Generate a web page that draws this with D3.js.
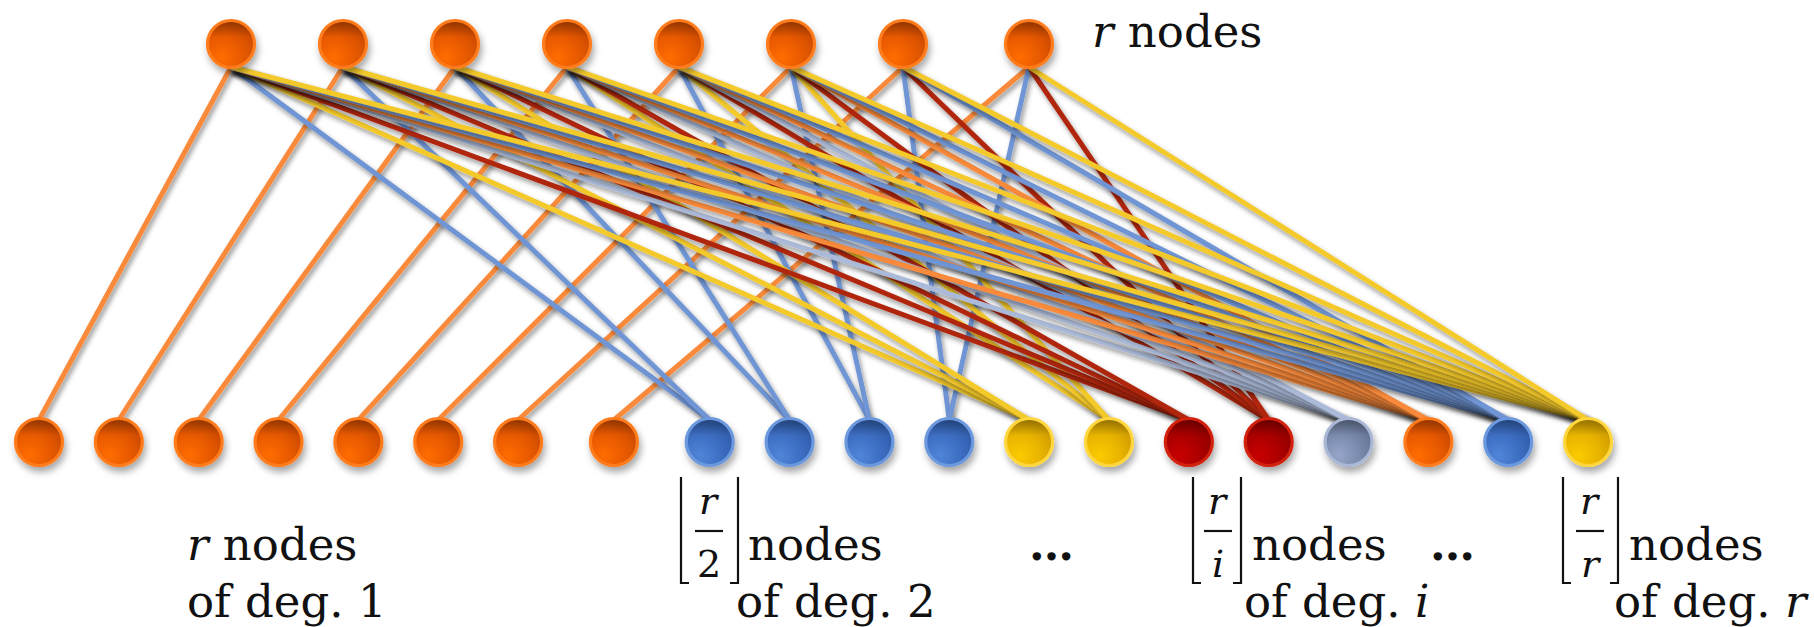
<!DOCTYPE html>
<html>
<head>
<meta charset="utf-8">
<script src="https://cdn.jsdelivr.net/npm/d3@7"></script>
<style>
  html, body { margin: 0; padding: 0; background: #fff; }
  svg { display: block; }
  text { font-family: "DejaVu Serif", serif; fill: #111; }
</style>
</head>
<body>
<div id="chart"></div>
<script>
// graph data: r top nodes, bottom groups by degree
const r = 8;
const groupDegrees = [1, 2, 3, 4, 5, 6, 7, 8];
const groupSizes = [8, 4, 2, 2, 1, 1, 1, 1];
const groupColors = ["orange", "blue", "yellow", "red", "grey", "orange", "blue", "yellow"];

const topLabel = ["r", " nodes"];
const bottomLabels = [
    { frac: null, line1: ["r", " nodes"], line2: ["of deg. 1", ""] },
    { frac: "2", line1: ["", "nodes"], line2: ["of deg. 2", ""] },
    { frac: "i", line1: ["", "nodes"], line2: ["of deg. ", "i"] },
    { frac: "r", line1: ["", "nodes"], line2: ["of deg. ", "r"] }
];
const dots = ["…", "…"];

// styles
const palette = {
    orange: { line: "#f98a3a", stops: ["#ff6c04", "#e65800", "#bd4300"], stroke: "#ff7c1e" },
    blue:   { line: "#6f95d4", stops: ["#5085d8", "#3b6cc0", "#2b559e"], stroke: "#6c98de" },
    yellow: { line: "#f4c92c", stops: ["#fccb04", "#e6b200", "#c29000"], stroke: "#ffd63e" },
    red:    { line: "#b0260f", stops: ["#c80606", "#a80000", "#840000"], stroke: "#d2200f" },
    grey:   { line: "#abbad8", stops: ["#97a6c8", "#7888aa", "#5b6988"], stroke: "#aab7d5" }
};

const width = 1814;
const height = 627;
const topY = 44, botY = 442, nodeR = 23.5;

// build nodes and links
const topNodes = d3.range(r).map(j => ({ id: "t" + j, idx: j }));
let bottomNodes = [];
let links = [];
groupDegrees.forEach((deg, g) => {
    for (let k = 0; k < groupSizes[g]; k++) {
        const b = { id: "b" + bottomNodes.length, idx: bottomNodes.length, deg: deg, color: groupColors[g] };
        bottomNodes.push(b);
        for (let t = k * deg; t < k * deg + deg; t++) {
            links.push({ source: topNodes[t], target: b, color: groupColors[g], deg: deg });
        }
    }
});

// layout scales (slot index -> x), with the small extra gaps seen in the figure
const xTop = d3.scaleLinear().domain([0, 7]).range([231, 231 + 112 * 7]);
const topSlot = j => j < 7 ? j : 7.125;
const xBot = d3.scaleLinear().domain([0, 19]).range([39, 39 + 79.85 * 19]);
const botSlot = i => i < 7 ? i : (i === 7 ? i + 0.2 : i + 0.4);

topNodes.forEach(d => { d.x = xTop(topSlot(d.idx)); d.y = topY; });
bottomNodes.forEach(d => { d.x = xBot(botSlot(d.idx)); d.y = botY; });

const svg = d3.select("#chart").append("svg")
    .attr("width", width)
    .attr("height", height);

const defs = svg.append("defs");

const lineShadow = defs.append("filter").attr("id", "lineShadow")
    .attr("x", "-20%").attr("y", "-20%").attr("width", "140%").attr("height", "140%");
lineShadow.append("feDropShadow")
    .attr("dx", 2).attr("dy", 3.5).attr("stdDeviation", 2.5)
    .attr("flood-color", "#000").attr("flood-opacity", 0.42);

const nodeShadow = defs.append("filter").attr("id", "nodeShadow")
    .attr("x", "-50%").attr("y", "-50%").attr("width", "200%").attr("height", "200%");
nodeShadow.append("feDropShadow")
    .attr("dx", 2).attr("dy", 5).attr("stdDeviation", 3.5)
    .attr("flood-color", "#000").attr("flood-opacity", 0.35);

Object.keys(palette).forEach(name => {
    const grad = defs.append("radialGradient").attr("id", "grad-" + name)
        .attr("cx", "0.3").attr("cy", "0.78").attr("fx", "0.3").attr("fy", "0.78").attr("r", "0.95");
    palette[name].stops.forEach((c, i) => {
        grad.append("stop").attr("offset", [0, 0.5, 1][i]).attr("stop-color", c);
    });
});

const inner = defs.append("linearGradient").attr("id", "innerTop")
    .attr("x1", 0).attr("y1", 0).attr("x2", 0).attr("y2", 1);
inner.append("stop").attr("offset", 0).attr("stop-color", "#000").attr("stop-opacity", 0.28);
inner.append("stop").attr("offset", 0.35).attr("stop-color", "#000").attr("stop-opacity", 0);

// edges, drawn by degree so the widest fans end up on top
svg.append("g")
    .selectAll("line")
    .data(links)
    .join("line")
    .attr("x1", d => d.source.x)
    .attr("y1", d => d.source.y + 23)
    .attr("x2", d => d.target.x)
    .attr("y2", d => d.target.y - 22)
    .attr("stroke", d => palette[d.color].line)
    .attr("stroke-width", 5)
    .attr("stroke-linecap", "butt")
    .attr("filter", "url(#lineShadow)");

function drawNodes(sel, data, colorOf) {
    const g = sel.append("g")
        .selectAll("g")
        .data(data)
        .join("g")
        .attr("transform", d => `translate(${d.x},${d.y})`);
    g.append("circle")
        .attr("r", nodeR)
        .attr("fill", d => `url(#grad-${colorOf(d)})`)
        .attr("stroke", d => palette[colorOf(d)].stroke)
        .attr("stroke-width", 3.2)
        .attr("filter", "url(#nodeShadow)");
    g.append("circle")
        .attr("r", nodeR - 1.6)
        .attr("fill", "url(#innerTop)");
}

drawNodes(svg, topNodes, () => "orange");
drawNodes(svg, bottomNodes, d => d.color);

// labels
const fontSize = 45, fracSize = 38;

function twoPart(sel, parts, italicFirst) {
    sel.append("tspan").attr("font-style", italicFirst ? "italic" : null).text(parts[0]);
    if (parts[1]) sel.append("tspan").attr("font-style", italicFirst ? null : "italic").text(parts[1]);
}

const tl = svg.append("text").attr("x", 1092).attr("y", 47).attr("font-size", fontSize);
twoPart(tl, topLabel, true);

// label positions (layout only)
const labelPos = [
    { x1: 187, x2: 187 },
    { x1: 748, x2: 736, bl: 681, br: 738, fc: 709 },
    { x1: 1252, x2: 1244, bl: 1193, br: 1241, fc: 1218 },
    { x1: 1629, x2: 1614, bl: 1563, br: 1618, fc: 1590 }
];
const line1Y = 560, line2Y = 617;

bottomLabels.forEach((lab, i) => {
    const p = labelPos[i];
    const t1 = svg.append("text").attr("x", p.x1).attr("y", line1Y).attr("font-size", fontSize);
    if (lab.line1[0]) twoPart(t1, lab.line1, true);
    else t1.text(lab.line1[1]);
    const t2 = svg.append("text").attr("x", p.x2).attr("y", line2Y).attr("font-size", fontSize);
    twoPart(t2, lab.line2, false);

    if (lab.frac) {
        const top = 477, bot = 583, serif = 8;
        svg.append("path")
            .attr("d", `M${p.bl},${top}V${bot}H${p.bl + serif}M${p.br},${top}V${bot}H${p.br - serif}`)
            .attr("fill", "none").attr("stroke", "#111").attr("stroke-width", 2.2);
        svg.append("line")
            .attr("x1", p.fc - 14).attr("x2", p.fc + 14)
            .attr("y1", 531).attr("y2", 531)
            .attr("stroke", "#111").attr("stroke-width", 2.2);
        svg.append("text").attr("x", p.fc - 1).attr("y", 514).attr("font-size", fracSize)
            .attr("text-anchor", "middle").attr("font-style", "italic").text("r");
        svg.append("text").attr("x", p.fc).attr("y", 577).attr("font-size", fracSize)
            .attr("text-anchor", "middle")
            .attr("font-style", lab.frac === "2" ? null : "italic").text(lab.frac);
    }
});

svg.selectAll("text.dots")
    .data(dots)
    .join("text")
    .attr("class", "dots")
    .attr("x", (d, i) => [1029, 1430][i])
    .attr("y", line1Y)
    .attr("font-size", fontSize)
    .attr("font-weight", "bold")
    .text(d => d);
</script>
</body>
</html>
